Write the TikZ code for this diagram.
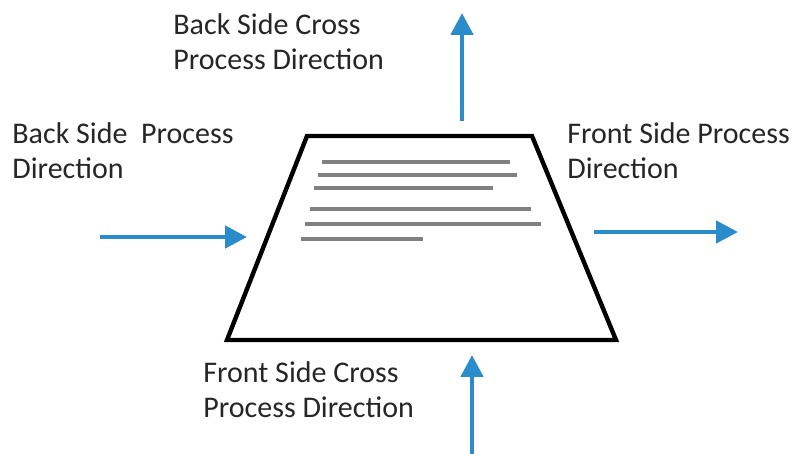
\documentclass[tikz,border=0pt]{standalone}
\usepackage{fontspec}
\setmainfont{Carlito}
\usetikzlibrary{arrows.meta}
\pgfdeclarelayer{edgelayer}
\pgfdeclarelayer{nodelayer}
\pgfsetlayers{edgelayer,nodelayer,main}
\definecolor{dirblue}{RGB}{43,140,203}
\definecolor{linegray}{RGB}{128,128,128}
\tikzset{font=\fontsize{15pt}{17.5pt}\selectfont}
\tikzstyle{none}=[inner sep=0pt]
\tikzstyle{lbl}=[inner sep=0pt,anchor=north west,align=left,text=black!85]
\tikzstyle{dir}=[line width=2.4pt,draw=dirblue,-{Triangle[length=11pt,width=11pt,fill=dirblue]}]
\tikzstyle{txt}=[line width=2pt,draw=linegray]

\begin{document}
\begin{tikzpicture}[x=0.5pt,y=-0.5pt]
	\useasboundingbox (0,0) rectangle (794,454);
	\begin{pgfonlayer}{nodelayer}
		\node [style=none] (0) at (307, 136) {};
		\node [style=none] (1) at (532, 136) {};
		\node [style=none] (2) at (616, 340) {};
		\node [style=none] (3) at (227, 340) {};
		\node [style=none] (4) at (462, 121) {};
		\node [style=none] (5) at (462, 13) {};
		\node [style=none] (6) at (100, 237) {};
		\node [style=none] (7) at (247, 237) {};
		\node [style=none] (8) at (594, 232) {};
		\node [style=none] (9) at (738, 232) {};
		\node [style=none] (10) at (472, 454) {};
		\node [style=none] (11) at (472, 355) {};
		\node [style=lbl] (12) at (173, 13) {Back Side Cross\\Process Direction};
		\node [style=lbl] (13) at (12, 122) {Back Side\ \ Process\\Direction};
		\node [style=lbl] (14) at (567, 122) {Front Side Process\\Direction};
		\node [style=lbl] (15) at (203, 361) {Front Side Cross\\Process Direction};
	\end{pgfonlayer}
	\begin{pgfonlayer}{edgelayer}
		\draw[line width=2.2pt] (0.center) to (1.center) to (2.center) to (3.center) -- cycle;
		\draw[style=txt] (322, 162) to (510, 162);
		\draw[style=txt] (318, 175) to (517, 175);
		\draw[style=txt] (314, 188) to (493, 188);
		\draw[style=txt] (310, 209) to (531, 209);
		\draw[style=txt] (305, 224) to (541, 224);
		\draw[style=txt] (301, 239) to (423, 239);
		\draw[style=dir] (4.center) to (5.center);
		\draw[style=dir] (6.center) to (7.center);
		\draw[style=dir] (8.center) to (9.center);
		\draw[style=dir] (10.center) to (11.center);
	\end{pgfonlayer}
\end{tikzpicture}
\end{document}
